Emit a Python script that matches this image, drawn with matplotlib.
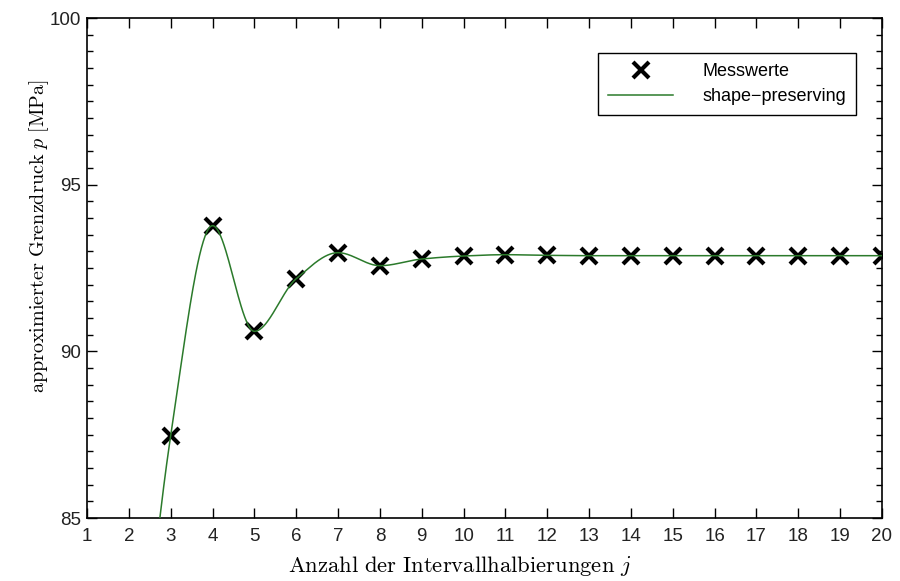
import numpy as np
import matplotlib
matplotlib.use("Agg")
import matplotlib.pyplot as plt
from matplotlib.ticker import MultipleLocator

# Messwerte (j = 2 liegt unterhalb der Achse)
j_vals = [2, 3, 4, 5, 6, 7, 8, 9, 10, 11, 12, 13, 14, 15, 16, 17, 18, 19, 20]
p_vals = [75.2, 87.47, 93.77, 90.6, 92.18, 92.96, 92.57, 92.77, 92.86, 92.9,
          92.88, 92.87, 92.87, 92.87, 92.87, 92.87, 92.87, 92.87, 92.87]
x_ticks = list(range(1, 21))
y_ticks = [85, 90, 95, 100]


def pchip(x, y, xn):
    """shape-preserving (Fritsch-Carlson) Interpolation"""
    x = np.asarray(x, float)
    y = np.asarray(y, float)
    h = np.diff(x)
    delta = np.diff(y) / h
    n = len(x)
    d = np.zeros(n)
    for k in range(1, n - 1):
        if delta[k - 1] * delta[k] > 0:
            w1 = 2 * h[k] + h[k - 1]
            w2 = h[k] + 2 * h[k - 1]
            d[k] = (w1 + w2) / (w1 / delta[k - 1] + w2 / delta[k])

    def end_slope(h0, h1, d0, d1):
        s = ((2 * h0 + h1) * d0 - h0 * d1) / (h0 + h1)
        if np.sign(s) != np.sign(d0):
            s = 0.0
        elif np.sign(d0) != np.sign(d1) and abs(s) > abs(3 * d0):
            s = 3 * d0
        return s

    d[0] = end_slope(h[0], h[1], delta[0], delta[1])
    d[-1] = end_slope(h[-1], h[-2], delta[-1], delta[-2])

    idx = np.clip(np.searchsorted(x, xn) - 1, 0, n - 2)
    t = (xn - x[idx]) / h[idx]
    h00 = 2 * t**3 - 3 * t**2 + 1
    h10 = t**3 - 2 * t**2 + t
    h01 = -2 * t**3 + 3 * t**2
    h11 = t**3 - t**2
    return (h00 * y[idx] + h10 * h[idx] * d[idx]
            + h01 * y[idx + 1] + h11 * h[idx] * d[idx + 1])


plt.rcParams["mathtext.fontset"] = "cm"
plt.rcParams["font.family"] = ["Liberation Sans", "DejaVu Sans"]

fig = plt.figure(figsize=(9, 5.81), dpi=100)
ax = fig.add_axes([0.0967, 0.1084, 0.8833, 0.8606])

xs = np.linspace(j_vals[0], j_vals[-1], 800)
ax.plot(j_vals, p_vals, "x", color="black", markersize=11, mew=3,
        label="Messwerte", zorder=3)
ax.plot(xs, pchip(j_vals, p_vals, xs), color="#2b7a2b", lw=1.1,
        label="shape\u2212preserving", zorder=4)

ax.set_xlim(1, 20)
ax.set_ylim(85, 100)
ax.set_xticks(x_ticks)
ax.set_yticks(y_ticks)
ax.yaxis.set_minor_locator(MultipleLocator(0.5))
ax.tick_params(which="both", direction="in", top=True, right=True,
               labelsize=13.5, colors="black", labelcolor="#222222")
ax.tick_params(which="major", length=7, width=1)
ax.tick_params(which="minor", length=4, width=1)
ax.tick_params(axis="x", pad=7)
ax.tick_params(axis="y", pad=4)
for s in ax.spines.values():
    s.set_linewidth(1.2)

ax.set_xlabel(r"$\mathrm{Anzahl\ der\ Intervallhalbierungen}\ j$", fontsize=16.3)
ax.xaxis.set_label_coords(0.4686, -0.071)
ax.xaxis.label.set_va("top")
ax.set_ylabel(r"$\mathrm{approximierter\ Grenzdruck}\ p\ \mathrm{[MPa]}$",
              fontsize=14.5)
ax.yaxis.set_label_coords(-0.045, 0.564)

leg = ax.legend(loc="upper right", bbox_to_anchor=(0.967, 0.93), fontsize=13,
                fancybox=False, edgecolor="black", framealpha=1,
                borderpad=0.55, handlelength=3.6, labelspacing=0.45,
                handletextpad=1.6, borderaxespad=0)
leg.get_frame().set_linewidth(1)

fig.savefig("out.png", dpi=100)
